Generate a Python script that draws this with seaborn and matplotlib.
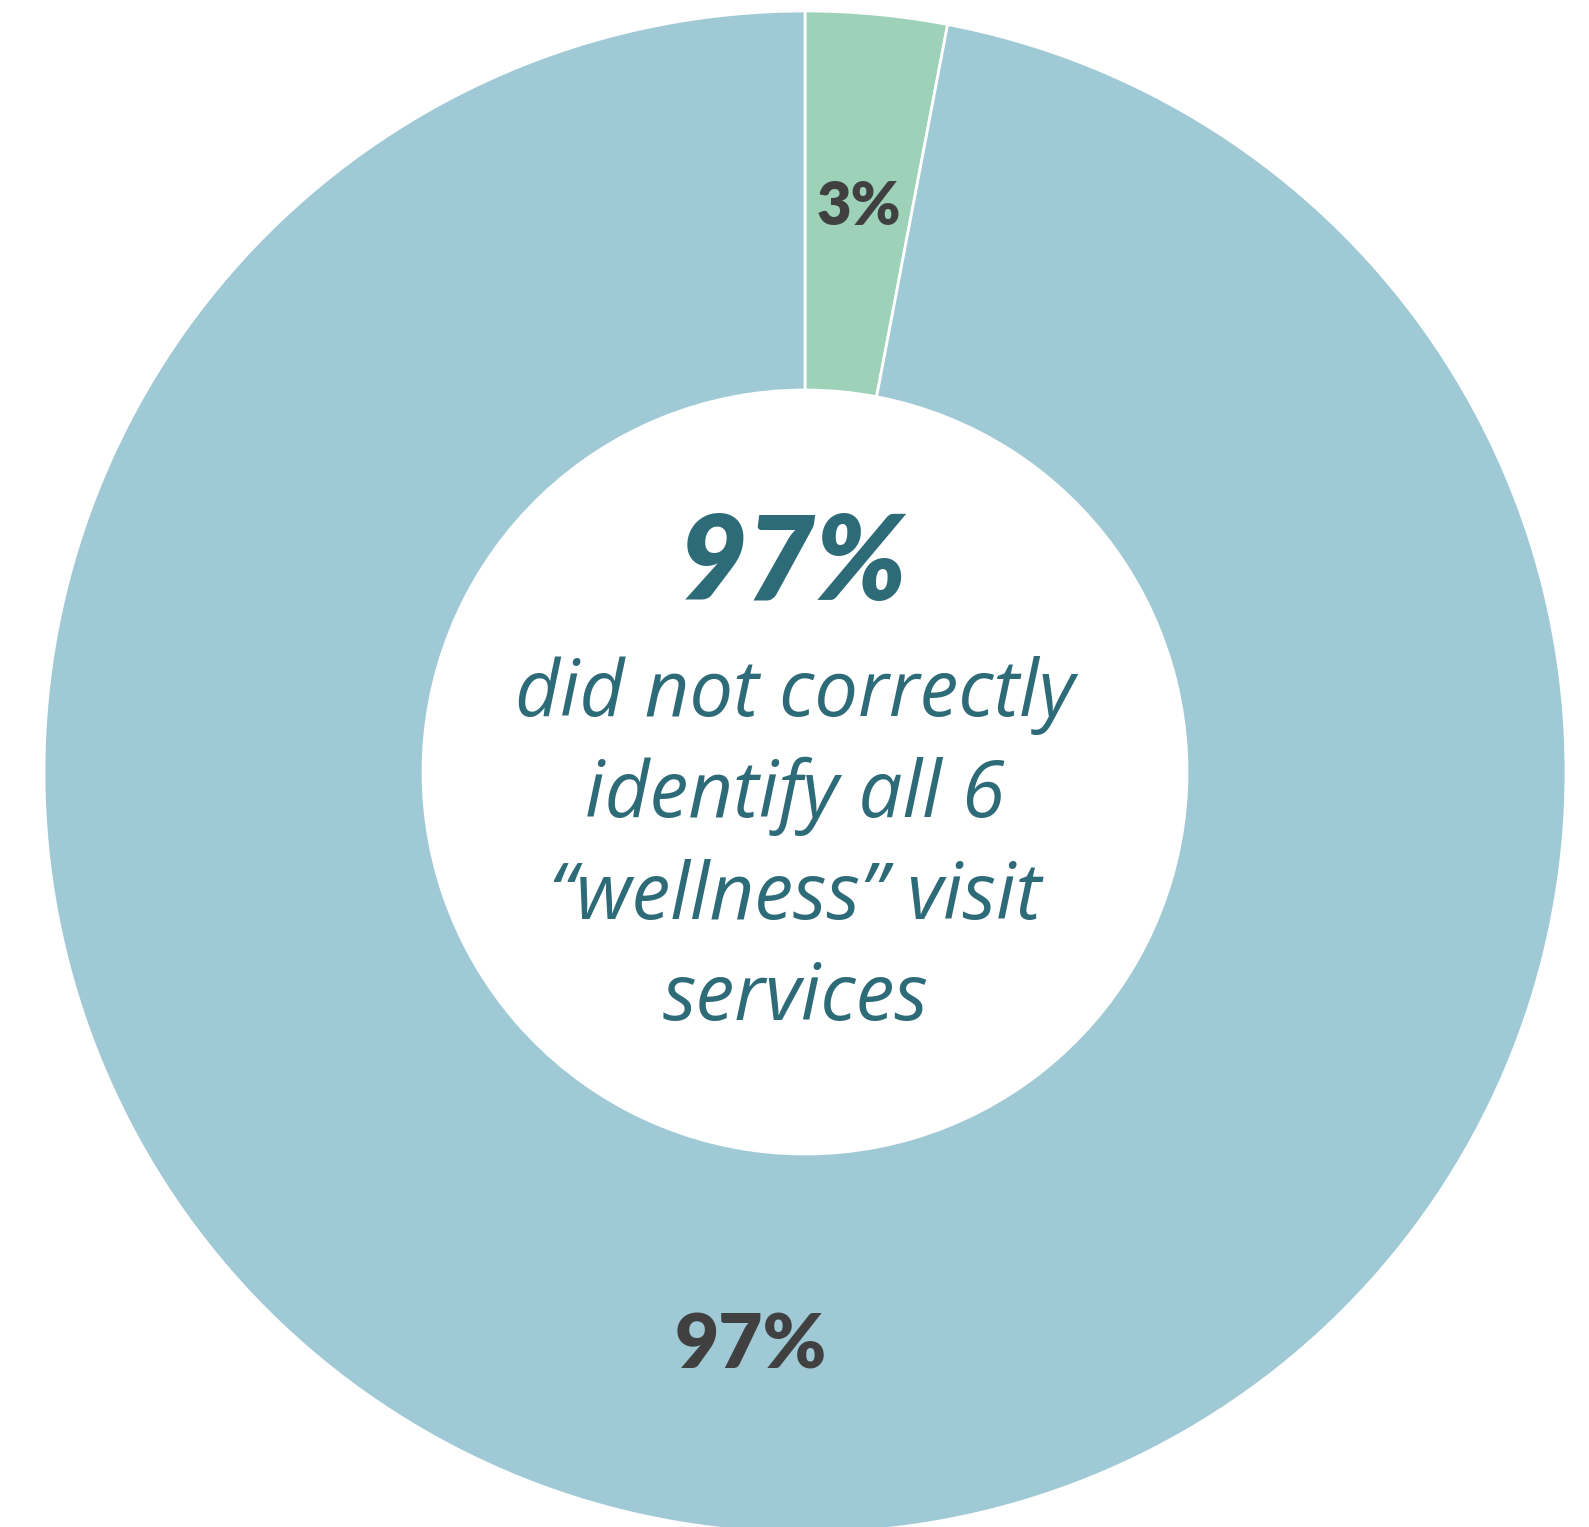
import matplotlib
matplotlib.use("Agg")
import matplotlib.pyplot as plt
import seaborn as sns

# Data
categories = ["Correctly identified all 6", "Did not correctly identify all 6"]
values = [3, 97]
colors = ["#9dd1b8", "#a0c9d6"]
center_value = "97%"
center_lines = ["did not correctly", "identify all 6", "\u201cwellness\u201d visit", "services"]

sns.set_theme(style="white")
plt.rcParams['font.family'] = ['Lato', 'DejaVu Sans']

W, H = 1589, 1527
fig = plt.figure(figsize=(W / 100, H / 100), dpi=100)
ax = fig.add_axes([0, 0, 1, 1])

cx, cy = 805, H - 772
R = 761
r_in = 382
wedges, texts, autotexts = ax.pie(
    values, colors=colors, startangle=90, counterclock=False,
    radius=R, center=(cx, cy), frame=True,
    autopct=lambda p: f"{p:.0f}%", pctdistance=0.75,
    wedgeprops=dict(width=R - r_in, edgecolor="white", linewidth=2),
    textprops=dict(color="#404040", fontweight="heavy"),
)
ax.set_xlim(0, W)
ax.set_ylim(0, H)
ax.set_aspect("equal")
ax.axis("off")

label_sizes = [43, 55]
cap_px = [43, 57]
for t, s, c in zip(autotexts, label_sizes, cap_px):
    x, y = t.get_position()
    t.set_fontsize(s)
    t.set_va("baseline")
    t.set_position((x, y - c / 2))

teal = "#2e6b78"
ax.text(793, H - 600, center_value, ha="center", va="baseline", fontsize=85,
        fontweight="heavy", fontstyle="italic", color=teal)
baselines = [716, 817, 919, 1020]
for line, b in zip(center_lines, baselines):
    ax.text(795, H - b, line, ha="center", va="baseline", fontsize=56,
            fontstyle="italic", color=teal, family=["Open Sans", "DejaVu Sans"])

fig.savefig("out.png", dpi=100, facecolor="white")
